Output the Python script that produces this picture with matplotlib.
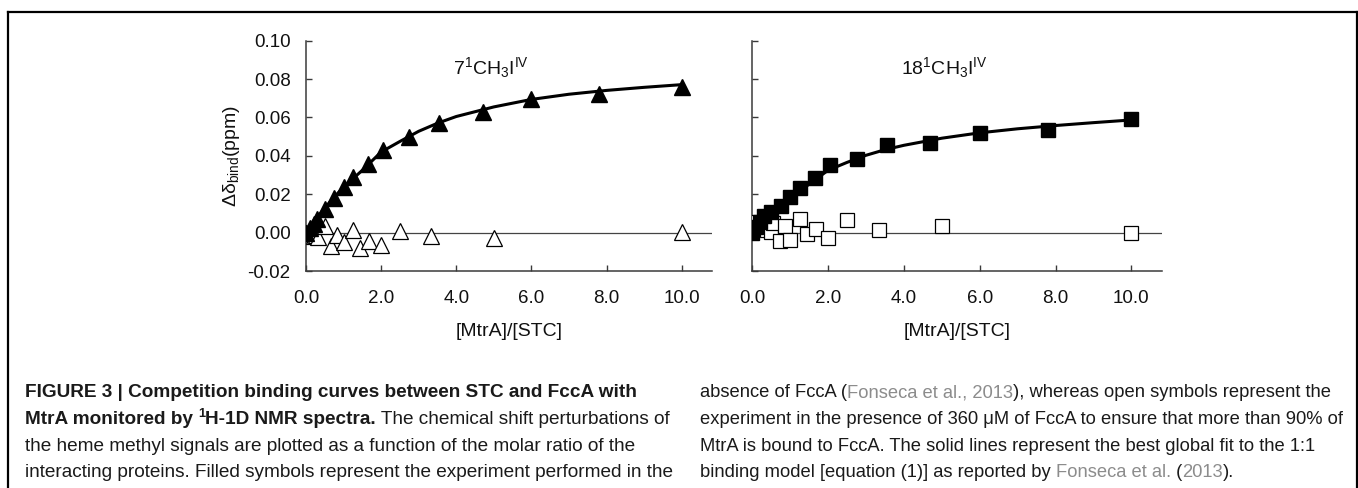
import matplotlib
matplotlib.use("Agg")
import matplotlib.pyplot as plt
from matplotlib.lines import Line2D

W, H = 1358, 488
DPI = 100

plt.rcParams['font.family'] = ['Liberation Sans', 'DejaVu Sans']
plt.rcParams['mathtext.default'] = 'regular'

# ---------------- data ----------------
x_filled = [0.0, 0.1, 0.2, 0.3, 0.5, 0.75, 1.0, 1.25, 1.65, 2.05, 2.75, 3.55, 4.7, 6.0, 7.8, 10.0]

tri_filled = [0.0, 0.0025, 0.0045, 0.0072, 0.0124, 0.018, 0.0236, 0.0288, 0.036, 0.043,
              0.050, 0.057, 0.063, 0.0697, 0.072, 0.0758]
sq_filled = [0.0, 0.003, 0.0055, 0.0085, 0.011, 0.0141, 0.0185, 0.0233, 0.0283, 0.0353,
             0.0386, 0.0455, 0.0466, 0.052, 0.0533, 0.059]

x_open_tri = [0.0, 0.2, 0.27, 0.33, 0.5, 0.67, 0.83, 1.0, 1.25, 1.43, 1.67, 2.0, 2.5, 3.33, 5.0, 10.0]
tri_open = [0.0, -0.002, -0.001, -0.0024, 0.0032, -0.0068, -0.001, -0.005, 0.0012, -0.0079,
            -0.0045, -0.0062, 0.0008, -0.0016, -0.0026, 0.0002]

x_open_sq = [0.1, 0.2, 0.38, 0.5, 0.55, 0.72, 0.87, 1.0, 1.25, 1.43, 1.67, 2.0, 2.5, 3.33, 5.0, 10.0]
sq_open = [0.0055, 0.002, 0.0012, 0.0004, 0.005, -0.0045, 0.0035, -0.004, 0.007, -0.0005,
           0.0018, -0.0027, 0.0064, 0.0015, 0.0034, 0.0]

x_fit = [0.0, 0.25, 0.5, 0.75, 1.0, 1.5, 2.0, 2.5, 3.0, 3.5, 4.0, 5.0, 6.0, 7.0, 8.0, 9.0, 10.0]
fit_left = [0.0, 0.0068, 0.0128, 0.0185, 0.0237, 0.0325, 0.0420, 0.0475, 0.0528, 0.0570,
            0.0605, 0.0655, 0.0694, 0.0721, 0.0741, 0.0757, 0.0771]
fit_right = [0.0, 0.0053, 0.0100, 0.0143, 0.0184, 0.0252, 0.0325, 0.0366, 0.0403, 0.0432,
             0.0455, 0.0492, 0.0520, 0.0541, 0.0558, 0.0573, 0.0587]

x_ticks = [0, 2, 4, 6, 8, 10]
x_ticklabels = ['0.0', '2.0', '4.0', '6.0', '8.0', '10.0']
y_ticks = [-0.02, 0.0, 0.02, 0.04, 0.06, 0.08, 0.10]
y_ticklabels = ['-0.02', '0.00', '0.02', '0.04', '0.06', '0.08', '0.10']

titles = [r'$7^1CH_3I^{IV}$', r'$18^1CH_3I^{IV}$']
xlabel = '[MtrA]/[STC]'
ylabel = 'Δδ$_{bind}$(ppm)'

# ---------------- figure ----------------
fig = plt.figure(figsize=(W / DPI, H / DPI), dpi=DPI)
fig.patch.set_facecolor('white')


def px_rect(x0, y_top, x1, y_bot):
    return [x0 / W, 1 - y_bot / H, (x1 - x0) / W, (y_bot - y_top) / H]


ax1 = fig.add_axes(px_rect(306, 40.7, 711.7, 271))
ax2 = fig.add_axes(px_rect(752.3, 40.7, 1161.7, 271))

spine_col = '#3a3a3a'
for ax, title in zip((ax1, ax2), titles):
    ax.set_xlim(0, 10.8)
    ax.set_ylim(-0.02, 0.10)
    for s in ('top', 'right'):
        ax.spines[s].set_visible(False)
    for s in ('left', 'bottom'):
        ax.spines[s].set_color(spine_col)
        ax.spines[s].set_linewidth(1.1)
    ax.axhline(0, color='#444444', lw=0.9, zorder=1)
    ax.set_xticks(x_ticks)
    ax.set_xticklabels(x_ticklabels)
    ax.set_yticks(y_ticks)
    ax.tick_params(axis='both', direction='in', length=4, width=1.0, color=spine_col,
                   labelsize=13.5, labelcolor='#111111')
    ax.tick_params(axis='x', pad=14)
    ax.tick_params(axis='y', pad=11)
    ax.set_xlabel(xlabel, fontsize=14, color='#111111', labelpad=11)
    ax.text(0.455 if ax is ax1 else 0.47, 0.885, title, transform=ax.transAxes,
            fontsize=14, ha='center', va='center', color='#111111')
    ax.patch.set_alpha(0)

ax1.set_yticklabels(y_ticklabels)
ax2.set_yticklabels([])
ax1.set_ylabel(ylabel, fontsize=14, color='#111111', labelpad=4)

# left panel: triangles
ax1.plot(x_open_tri, tri_open, ls='none', marker='^', ms=12, mfc='white', mec='black',
         mew=0.9, zorder=3)
ax1.plot(x_fit, fit_left, color='black', lw=2.2, zorder=4)
ax1.plot(x_filled, tri_filled, ls='none', marker='^', ms=12, mfc='black', mec='black',
         zorder=5)

# right panel: squares
ax2.plot(x_open_sq, sq_open, ls='none', marker='s', ms=10.5, mfc='white', mec='black',
         mew=0.9, zorder=3)
ax2.plot(x_fit, fit_right, color='black', lw=2.2, zorder=4)
ax2.plot(x_filled, sq_filled, ls='none', marker='s', ms=10.5, mfc='black', mec='black',
         zorder=5)

# ---------------- frame ----------------
def fig_line(xs, ys):
    fig.add_artist(Line2D([x / W for x in xs], [1 - y / H for y in ys],
                          color='black', lw=1.6, transform=fig.transFigure))

fig_line([8, 1357], [12, 12])
fig_line([8, 8], [12, 488])
fig_line([1356.5, 1356.5], [12, 488])

# ---------------- caption ----------------
cap_family = ['Liberation Sans', 'DejaVu Sans']
cap_col = '#1a1a1a'
gray = '#8c8c8c'

renderer = fig.canvas.get_renderer()


def draw_line(pieces, x_px, base_px, size, measure=False):
    x = x_px
    made = []
    for piece in pieces:
        txt = piece[0]
        weight = piece[1] if len(piece) > 1 else 'normal'
        color = piece[2] if len(piece) > 2 else cap_col
        sup = piece[3] if len(piece) > 3 else False
        s = size * 0.68 if sup else size
        yb = base_px - (size * 0.5 if sup else 0)
        t = fig.text(x / W, 1 - yb / H, txt, fontsize=s, fontweight=weight, color=color,
                     family=cap_family, ha='left', va='baseline')
        bb = t.get_window_extent(renderer)
        x += bb.width
        made.append(t)
    if measure:
        for t in made:
            t.remove()
    return x - x_px


baselines = [397, 424, 451, 477]
left_lines = [
    [("FIGURE 3 | Competition binding curves between STC and FccA with", 'bold')],
    [("MtrA monitored by ", 'bold'), ("1", 'bold', cap_col, True), ("H-1D NMR spectra.", 'bold'),
     (" The chemical shift perturbations of", 'normal')],
    [("the heme methyl signals are plotted as a function of the molar ratio of the",)],
    [("interacting proteins. Filled symbols represent the experiment performed in the",)],
]
right_lines = [
    [("absence of FccA (",), ("Fonseca et al., 2013", 'normal', gray),
     ("), whereas open symbols represent the",)],
    [("experiment in the presence of 360 μM of FccA to ensure that more than 90% of",)],
    [("MtrA is bound to FccA. The solid lines represent the best global fit to the 1:1",)],
    [("binding model [equation (1)] as reported by ",), ("Fonseca et al.", 'normal', gray),
     (" (",), ("2013", 'normal', gray), (").",)],
]

base_size = 14.0
for lines, x0, x1 in ((left_lines, 25, 680), (right_lines, 700, 1345)):
    widest = max(draw_line(p, x0, 0, base_size, measure=True) for p in lines)
    size = base_size * min(1.0, (x1 - x0) / widest)
    for pieces, b in zip(lines, baselines):
        draw_line(pieces, x0, b, size)

fig.savefig('out.png', dpi=DPI, facecolor='white')
